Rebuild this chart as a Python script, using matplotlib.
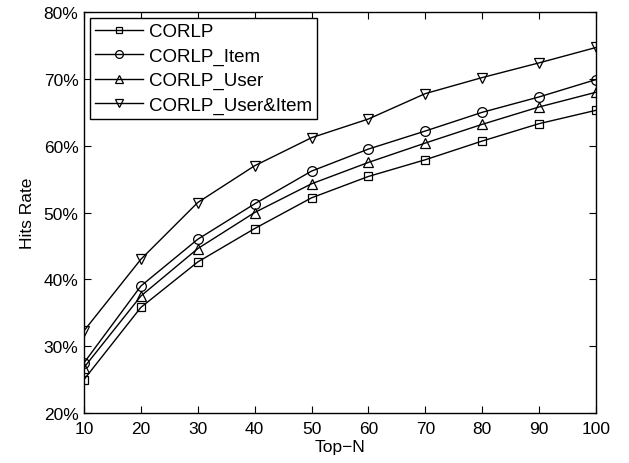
import matplotlib
matplotlib.use("Agg")
import matplotlib.pyplot as plt
from matplotlib.ticker import FuncFormatter

# Data (hits rate in %)
top_n = [10, 20, 30, 40, 50, 60, 70, 80, 90, 100]
corlp = [25.0, 35.8, 42.6, 47.6, 52.2, 55.4, 57.9, 60.7, 63.3, 65.3]
corlp_item = [27.5, 39.0, 46.0, 51.3, 56.2, 59.5, 62.2, 65.0, 67.3, 69.9]
corlp_user = [26.8, 37.5, 44.6, 50.0, 54.3, 57.5, 60.4, 63.2, 65.8, 68.0]
corlp_user_item = [32.3, 43.0, 51.5, 57.0, 61.2, 64.0, 67.8, 70.2, 72.4, 74.7]

plt.rcParams['font.family'] = ['Liberation Sans', 'DejaVu Sans']

fig = plt.figure(figsize=(6.29, 4.64), dpi=100)
ax = fig.add_axes([0.1335, 0.1078, 0.814, 0.864])

style = dict(color="black", linewidth=1.0, markerfacecolor="none",
             markeredgecolor="black", markersize=7, markeredgewidth=0.9)
ax.plot(top_n, corlp, marker="s", label="CORLP", **{**style, "markersize": 6})
ax.plot(top_n, corlp_item, marker="o", label="CORLP_Item", **style)
ax.plot(top_n, corlp_user, marker="^", label="CORLP_User", **style)
ax.plot(top_n, corlp_user_item, marker="v", label="CORLP_User&Item", **style)

ax.set_xlim(10, 100)
ax.set_ylim(20, 80)
ax.set_xticks(top_n)
ax.set_yticks(range(20, 81, 10))
ax.yaxis.set_major_formatter(FuncFormatter(lambda v, _: f"{v:.0f}%"))
ax.tick_params(direction="in", top=True, right=True, labelsize=12.5, length=5)
ax.tick_params(axis="x", pad=6)
ax.tick_params(axis="y", pad=4)
for s in ax.spines.values():
    s.set_linewidth(1.0)

ax.set_xlabel("Top\u2212N", fontsize=12.5, labelpad=2)
ax.set_ylabel("Hits Rate", fontsize=12.5, labelpad=6)

leg = ax.legend(loc="upper left", fontsize=13.5, fancybox=False, framealpha=1,
                edgecolor="black", borderaxespad=0.3, handlelength=2.55,
                labelspacing=0.38, borderpad=0.3, handletextpad=0.3,
                markerscale=0.8)
leg.get_frame().set_linewidth(1.0)

fig.savefig("out.png", dpi=100)
